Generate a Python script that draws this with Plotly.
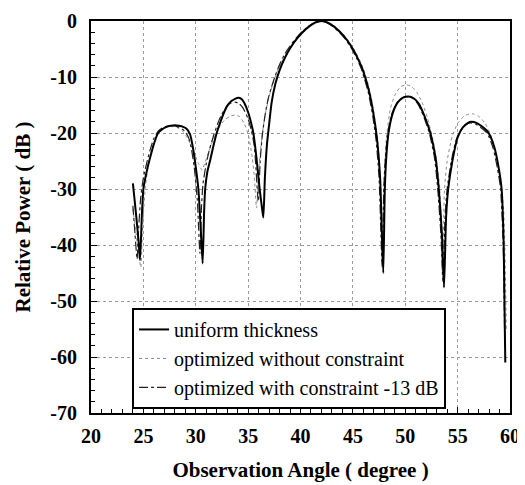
import plotly.graph_objects as go

# ---- data ----
uniform_x = [24.0, 24.3, 24.55, 24.68, 24.85, 25.0, 25.3, 25.6, 26.0, 26.4, 26.75, 27.2, 27.6, 28.0, 28.4, 28.8, 29.1, 29.45, 29.7, 29.9, 30.25, 30.5, 30.66,
             30.8, 30.9, 31.1, 31.4, 31.7, 32.0, 32.4, 32.8, 33.1, 33.4, 33.75, 34.06, 34.35, 34.6, 35.0, 35.3, 35.5, 35.8, 36.1, 36.3, 36.45,
             36.6, 36.8, 37.0, 37.25, 37.6, 38.0, 38.5, 39.0, 39.6, 40.2, 40.8, 41.4, 42.0, 42.6, 43.2, 43.8, 44.4, 45.0, 45.5, 45.9,
             46.2, 46.6, 47.0, 47.3, 47.6, 47.9,
             48.05, 48.2, 48.4, 48.8, 49.3, 49.8, 50.3, 50.8, 51.3, 51.8, 52.1, 52.4, 52.9, 53.2, 53.5, 53.7,
             53.9, 54.1, 54.5, 55.0, 55.5, 56.0, 56.3, 56.8, 57.3, 57.8, 58.1, 58.5, 58.9, 59.2, 59.4, 59.55]
uniform_y = [-29.0, -34.5, -39.5, -42.7, -35.0, -30.0, -27.0, -24.7, -22.0, -20.0, -19.4, -18.9, -18.7, -18.6, -18.7, -18.9, -19.2, -20.2, -22.3, -24.7, -30.0, -38.0, -43.3,
             -34.0, -30.0, -27.0, -24.7, -22.2, -20.0, -17.8, -15.9, -14.9, -14.3, -13.9, -13.7, -13.9, -14.5, -16.3, -18.3, -20.0, -24.5, -30.0, -33.0, -35.1,
             -28.0, -22.0, -18.5, -14.5, -11.2, -8.8, -6.6, -4.9, -3.3, -2.0, -1.0, -0.3, 0.0, -0.3, -1.0, -2.0, -3.3, -5.0, -6.8, -8.5,
             -10.2, -13.0, -17.0, -21.0, -28.0, -45.0,
             -30.0, -24.0, -20.0, -16.5, -14.5, -13.7, -13.5, -13.8, -14.8, -16.8, -18.3, -20.0, -24.5, -30.0, -38.0, -47.6,
             -35.0, -30.0, -25.0, -20.8, -19.0, -18.2, -18.0, -18.2, -18.8, -19.6, -20.5, -22.5, -26.0, -30.0, -40.0, -61.0]

constr_x = [24.0, 24.2, 24.4, 24.55, 24.75, 25.0, 25.3, 25.6, 26.0, 26.4, 26.8, 27.2, 27.6, 27.9, 28.3, 28.7, 29.0, 29.35, 29.6, 29.85, 30.15, 30.4,
            30.55, 30.7, 31.0, 31.3, 31.7, 32.1, 32.5, 32.9, 33.3, 33.75, 34.1, 34.5, 35.0, 35.3, 35.6, 35.97,
            36.15, 36.35, 36.6, 36.9, 37.2, 37.55, 38.0, 38.5, 39.0, 39.6, 40.2, 40.8, 41.3, 41.9, 42.5, 43.1, 43.7, 44.3, 44.9, 45.4, 45.8,
            46.1, 46.5, 46.9, 47.2, 47.5, 47.8,
            47.95, 48.1, 48.3, 48.7, 49.2, 49.7, 50.2, 50.7, 51.2, 51.7, 52.0, 52.3, 52.8, 53.1, 53.4, 53.6,
            53.8, 54.0, 54.4, 54.9, 55.4, 55.9, 56.2, 56.7, 57.2, 57.7, 58.0, 58.4, 58.8, 59.1, 59.35, 59.5]
constr_y = [-33.0, -38.0, -42.5, -37.0, -31.5, -28.0, -25.5, -23.3, -21.0, -19.7, -19.1, -18.8, -18.7, -18.7, -18.9, -19.3, -19.8, -21.0, -23.0, -26.0, -32.0, -41.5,
            -33.0, -29.0, -25.5, -23.0, -20.5, -18.3, -16.6, -15.4, -14.7, -14.5, -14.7, -15.5, -17.5, -19.5, -22.5, -32.2,
            -25.0, -20.5, -17.0, -14.0, -12.0, -10.0, -7.8, -5.9, -4.5, -3.0, -1.8, -0.9, -0.3, 0.0, -0.3, -1.0, -2.0, -3.3, -5.0, -6.8, -8.5,
            -10.3, -13.0, -17.0, -21.0, -28.0, -44.0,
            -30.0, -24.5, -20.5, -16.7, -14.6, -13.7, -13.5, -13.8, -14.8, -16.8, -18.3, -20.0, -24.5, -30.0, -38.0, -46.5,
            -35.0, -30.0, -25.0, -21.0, -19.2, -18.4, -18.2, -18.4, -19.0, -19.8, -20.7, -22.8, -26.3, -30.0, -40.0, -58.0]

free_x = [24.0, 24.3, 24.55, 24.75, 24.95, 25.2, 25.5, 25.9, 26.3, 26.7, 27.2, 27.7, 28.2, 28.7, 29.1, 29.5, 29.9, 30.3, 30.6,
          30.9, 31.3, 31.8, 32.3, 32.8, 33.3, 33.75, 34.2, 34.6, 35.0, 35.4, 35.6, 35.8,
          36.0, 36.3, 36.6, 37.0, 37.4, 37.8, 38.3, 38.9, 39.5, 40.2, 40.9, 41.5, 42.1, 42.7, 43.3, 43.9, 44.5, 45.1, 45.6, 46.0,
          46.3, 46.7, 47.1, 47.4, 47.65, 47.8,
          47.95, 48.2, 48.6, 49.1, 49.6, 50.1, 50.6, 51.1, 51.6, 52.1, 52.6, 53.0, 53.3, 53.55,
          53.75, 54.0, 54.5, 55.0, 55.6, 56.1, 56.5, 57.0, 57.6, 58.2, 58.7, 59.1, 59.4, 59.65]
free_y = [-33.5, -38.0, -41.5, -44.0, -36.0, -29.5, -25.5, -22.3, -20.5, -19.5, -19.0, -18.85, -19.0, -19.6, -20.6, -22.0, -23.8, -25.6, -26.6,
          -25.2, -23.0, -20.6, -18.8, -17.6, -17.0, -16.8, -17.1, -18.2, -20.2, -24.5, -28.0, -33.4,
          -27.0, -21.0, -17.0, -13.5, -11.0, -8.9, -7.0, -5.2, -3.6, -2.2, -1.0, -0.3, 0.0, -0.3, -1.0, -2.0, -3.3, -5.0, -6.8, -8.5,
          -10.2, -13.2, -17.5, -22.0, -30.0, -43.0,
          -30.0, -21.0, -15.5, -12.9, -11.7, -11.4, -11.7, -12.7, -14.5, -17.2, -20.8, -25.0, -30.0, -45.0,
          -30.0, -25.0, -20.5, -18.3, -17.0, -16.6, -16.6, -17.0, -18.2, -20.5, -24.0, -28.5, -34.0, -55.0]

series_names = ["uniform thickness", "optimized without constraint", "optimized with constraint -13 dB"]
x_ticks = [20, 25, 30, 35, 40, 45, 50, 55, 60]
y_ticks = [0, -10, -20, -30, -40, -50, -60, -70]

SERIF = "Liberation Serif, Times New Roman, serif"

fig = go.Figure()
fig.add_trace(go.Scatter(x=free_x, y=free_y, mode="lines", name=series_names[1], legendrank=2,
                         line=dict(color="#8a8a8a", width=1, dash="dot", shape="spline", smoothing=0.6)))
fig.add_trace(go.Scatter(x=constr_x, y=constr_y, mode="lines", name=series_names[2], legendrank=3,
                         line=dict(color="#222222", width=1.2, dash="dashdot", shape="spline", smoothing=0.6)))
fig.add_trace(go.Scatter(x=uniform_x, y=uniform_y, mode="lines", name=series_names[0], legendrank=1,
                         line=dict(color="black", width=2, shape="spline", smoothing=0.6)))

axis_common = dict(
    showgrid=True, gridcolor="#9a9a9a", griddash="dot", gridwidth=1,
    showline=True, linecolor="black", linewidth=2, mirror=True,
    ticks="inside", ticklen=6, tickwidth=1, tickcolor="black",
    zeroline=False, automargin=False, ticklabeloverflow="allow",
    tickfont=dict(family=SERIF, size=20, color="black", weight="bold"),
)

# page body has an 8px margin, so the figure is sized to fit the 525x485 window
fig.update_layout(
    width=517, height=477,
    margin=dict(l=83, r=15, t=13, b=72, autoexpand=False),
    paper_bgcolor="white", plot_bgcolor="white",
    font=dict(family=SERIF, color="black"),
    xaxis=dict(range=[20, 60], tickvals=x_ticks, ticktext=[str(v) for v in x_ticks],
               minor=dict(dtick=1, tick0=20, ticks="inside", ticklen=4, tickcolor="black", showgrid=False),
               title=dict(text="Observation Angle ( degree )", standoff=16,
                          font=dict(family=SERIF, size=21, color="black", weight="bold")),
               ticklabelstandoff=4,
               **axis_common),
    yaxis=dict(range=[-70, 0], tickvals=y_ticks, ticktext=[str(v) for v in y_ticks],
               minor=dict(dtick=2, tick0=0, ticks="inside", ticklen=4, tickcolor="black", showgrid=False),
               title=dict(text="Relative Power ( dB )", standoff=14,
                          font=dict(family=SERIF, size=21, color="black", weight="bold")),
               ticklabelstandoff=8,
               **axis_common),
    legend=dict(x=0.098, y=0.268, xanchor="left", yanchor="top",
                bgcolor="white", bordercolor="black", borderwidth=2,
                font=dict(family=SERIF, size=20, color="black"),
                itemwidth=30, tracegroupgap=0),
    showlegend=True,
)

fig.write_html("out.html")
